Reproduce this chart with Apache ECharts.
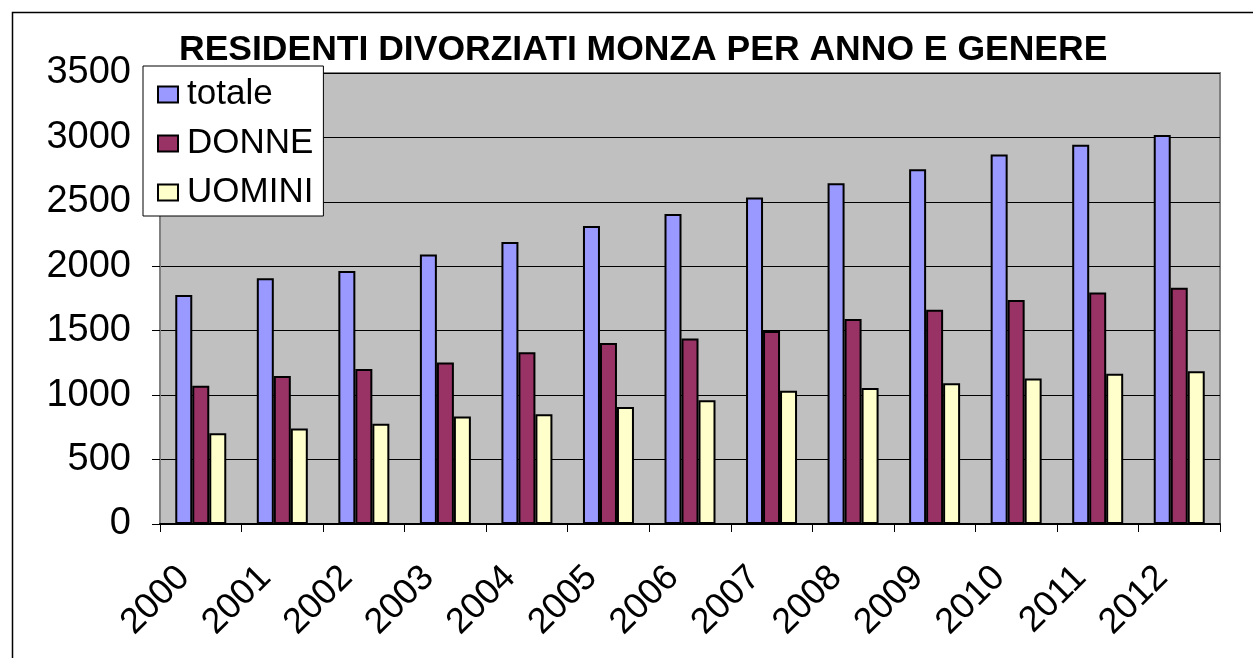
<!DOCTYPE html>
<html>
<head>
<meta charset="utf-8">
<title>Residenti divorziati Monza</title>
<script src="https://cdn.jsdelivr.net/npm/echarts@6/dist/echarts.min.js"></script>
<style>
  html, body { margin: 0; padding: 0; background: #fff; }
  #chart { width: 1253px; height: 658px; }
</style>
</head>
<body>
<div id="chart"></div>
<script>
// dati
const anni = ['2000', '2001', '2002', '2003', '2004', '2005', '2006', '2007', '2008', '2009', '2010', '2011', '2012']
const totale = [1778, 1908, 1963, 2092, 2188, 2312, 2405, 2534, 2645, 2754, 2868, 2943, 3018]
const donne = [1073, 1148, 1202, 1254, 1332, 1404, 1440, 1497, 1590, 1663, 1738, 1797, 1833]
const uomini = [704, 742, 778, 835, 851, 908, 960, 1034, 1055, 1092, 1130, 1166, 1185]
const yTicks = [0, 500, 1000, 1500, 2000, 2500, 3000, 3500]

const font = 'Liberation Sans, Arial, sans-serif'

const chart = echarts.init(document.getElementById('chart'))

function barSeries(name, data, color) {
  return {
    name: name,
    type: 'bar',
    data: data,
    barWidth: 17,
    barGap: '0%',
    itemStyle: {
      color: color,
      borderColor: '#000',
      borderWidth: 2
    },
    animation: false
  }
}

chart.setOption({
  backgroundColor: '#fff',
  textStyle: { fontFamily: font },
  title: {
    text: 'RESIDENTI DIVORZIATI MONZA PER ANNO E GENERE',
    left: 174,
    top: 27,
    textStyle: {
      fontFamily: font,
      fontSize: 35.5,
      fontWeight: 'bold',
      color: '#000'
    }
  },
  graphic: [
    {
      type: 'rect',
      left: 10,
      top: 10,
      shape: { width: 1300, height: 700 },
      style: { fill: 'none', stroke: '#000', lineWidth: 1.5 },
      silent: true
    }
  ],
  legend: {
    orient: 'vertical',
    left: 143,
    top: 66,
    padding: [11, 10, 6, 14],
    itemGap: 14,
    itemWidth: 20,
    itemHeight: 16,
    icon: 'rect',
    backgroundColor: '#fff',
    borderColor: '#000',
    borderWidth: 1,
    z: 10,
    itemStyle: { borderColor: '#000', borderWidth: 2 },
    textStyle: {
      fontFamily: font,
      fontSize: 35,
      lineHeight: 35,
      color: '#000',
      padding: [0, 0, 0, 4]
    },
    data: ['totale', 'DONNE', 'UOMINI']
  },
  grid: {
    left: 160,
    right: 33,
    top: 73,
    bottom: 134,
    show: true,
    backgroundColor: '#C0C0C0',
    borderColor: '#808080',
    borderWidth: 2
  },
  xAxis: {
    type: 'category',
    data: anni,
    boundaryGap: true,
    axisLine: { lineStyle: { color: '#000', width: 2 } },
    axisTick: { show: true, length: 8, interval: 0, lineStyle: { color: '#000', width: 1 } },
    axisLabel: {
      interval: 0,
      rotate: 45,
      margin: 31,
      padding: [0, 24, 0, 0],
      fontFamily: font,
      fontSize: 36,
      color: '#000'
    }
  },
  yAxis: {
    type: 'value',
    min: yTicks[0],
    max: yTicks[yTicks.length - 1],
    interval: 500,
    axisLine: { show: true, lineStyle: { color: '#808080', width: 2 } },
    axisTick: { show: true, length: 8, lineStyle: { color: '#000' } },
    splitLine: { lineStyle: { color: '#000', width: 1 } },
    axisLabel: {
      margin: 29,
      fontFamily: font,
      fontSize: 38,
      color: '#000',
      formatter: function (v) { return String(v) }
    }
  },
  series: [
    barSeries('totale', totale, '#9999FF'),
    barSeries('DONNE', donne, '#993366'),
    barSeries('UOMINI', uomini, '#FFFFCC')
  ]
})
</script>
</body>
</html>
